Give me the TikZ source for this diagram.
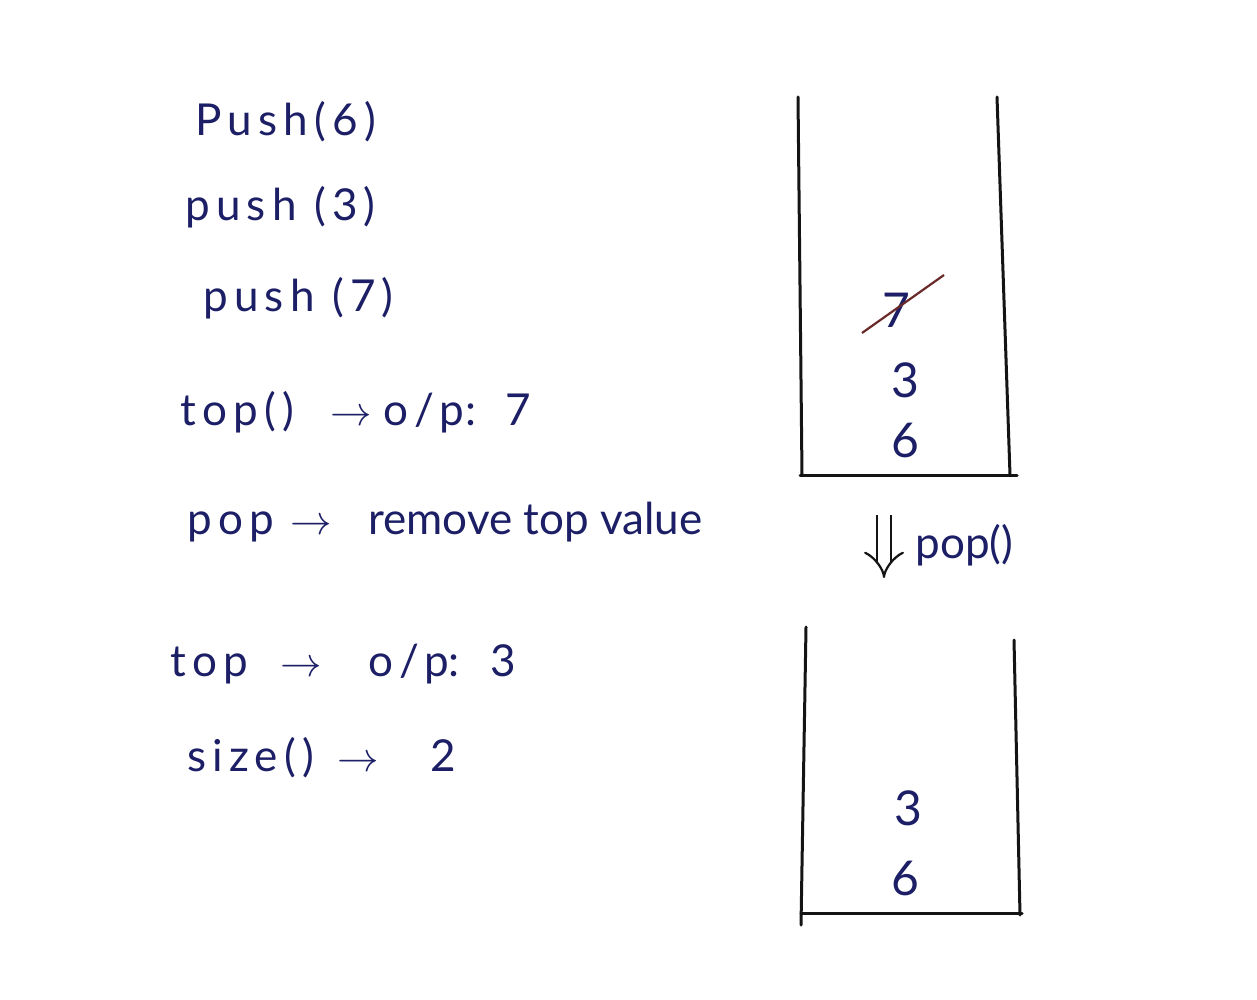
\documentclass[tikz,border=0pt]{standalone}
\usepackage{fontspec}
\setmainfont{Lato}
\newfontfamily\widefont[LetterSpace=14]{Lato}
\usetikzlibrary{arrows.meta,calc}
\definecolor{ink}{HTML}{1C1F66}
\definecolor{pen}{HTML}{141414}
\definecolor{strike}{HTML}{6B2A2A}
\newcommand\seg[2]{\makebox[#1\dimexpr0.5pt\relax][l]{#2}}
\begin{document}
\begin{tikzpicture}[x=0.5pt,y=-0.5pt,
  txt/.style={anchor=west, inner sep=0pt, text=ink, font=\fontsize{22}{26}\selectfont},
  wtxt/.style={txt, font=\fontsize{22}{26}\widefont},
  num/.style={inner sep=0pt, text=ink, font=\fontsize{24}{28}\selectfont},
  wall/.style={draw=pen, line width=1.5pt, line cap=round}]
\useasboundingbox[fill=white] (0,0) rectangle (1257,1000);
% left column
\node[wtxt] (p6) at (195,122) {Push(6)};
\node[wtxt] (p3) at (185,207) {push (3)};
\node[wtxt] (p7) at (203,298) {push (7)};
\node[txt] (t1) at (180,412) {\seg{150}{{\widefont top()}}\seg{53}{$\rightarrow$}\seg{82}{{\widefont o/p}}\seg{40}{:}7};
\node[txt] (pp) at (187,522) {\seg{103}{{\widefont pop}}\seg{78}{$\rightarrow$}remove top value};
\node[txt] (t2) at (170,664) {\seg{110}{{\widefont top}}\seg{88}{$\rightarrow$}\seg{80}{{\widefont o/p}}\seg{42}{:}3};
\node[txt] (sz) at (187,758) {\seg{150}{{\widefont size()}}\seg{93}{$\rightarrow$}2};
% stack 1
\coordinate (a1) at (798,97);
\coordinate (a2) at (802,475);
\coordinate (b1) at (997,97);
\coordinate (b2) at (1010,475);
\draw[wall] (a1) -- (a2);
\draw[wall] (b1) -- (b2);
\draw[wall] (800,475) -- (1017,475);
\node[num] (s7) at (896,310) {7};
\node[num] (s3) at (905,380) {3};
\node[num] (s6) at (905,440) {6};
\draw[strike, line width=1.1pt] ($(s7.center)+(-34,23)$) coordinate (x1) -- ($(s7.center)+(48,-35)$) coordinate (x2);
% pop arrow
\coordinate (d1) at (884,515);
\coordinate (d2) at (884,578);
\draw[draw=pen, line width=1.1pt, double, double distance=6pt, -{Implies[length=8pt]}] (d1) -- (d2);
\node[txt] (lbl) at (915,545) {pop()};
% stack 2
\coordinate (c1) at (806,627);
\coordinate (c2) at (801,925);
\coordinate (e1) at (1014,640);
\coordinate (e2) at (1020,915);
\draw[wall] (c1) -- (c2);
\draw[wall] (e1) -- (e2);
\draw[wall] (801,913) -- (1022,913);
\node[num] (u3) at (908,808) {3};
\node[num] (u6) at (905,878) {6};
\end{tikzpicture}
\end{document}
